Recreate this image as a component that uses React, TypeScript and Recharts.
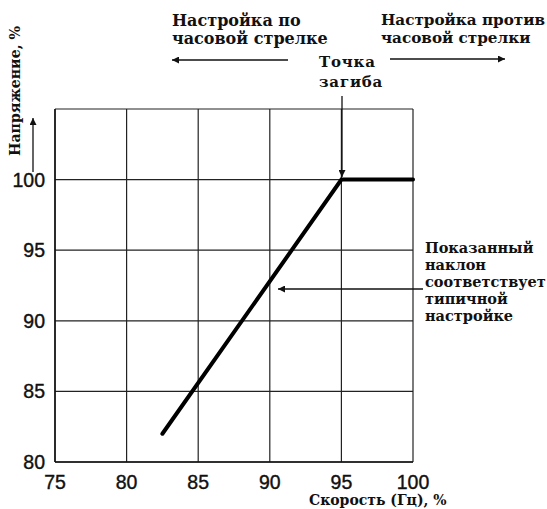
import { LineChart, Line, XAxis, YAxis, CartesianGrid } from 'recharts';

// Characteristic: voltage vs speed (frequency), %
const speed = [82.5, 95, 100];
const voltage = [82, 100, 100];
const xTicks = [75, 80, 85, 90, 95, 100];
const yTicks = [80, 85, 90, 95, 100, 105];

const leftCaption = ['Настройка по', 'часовой стрелке'];
const rightCaption = ['Настройка против', 'часовой стрелки'];
const kneeCaption = ['Точка', 'загиба'];
const slopeCaption = ['Показанный', 'наклон', 'соответствует', 'типичной', 'настройке'];

const data = speed.map((x, i) => ({ x, y: voltage[i] }));

const serif = { fontFamily: '"DejaVu Serif", serif', fontWeight: 700, fill: '#111' };
const tickStyle = { fontSize: 19.5, fill: '#111', fontFamily: '"Liberation Sans", Arial, sans-serif', stroke: '#111', strokeWidth: 0.4 };

function Overlay() {
  return (
    <svg width={547} height={509} style={{ position: 'absolute', left: 0, top: 0, pointerEvents: 'none' }}>
      <defs>
        <marker id="head" viewBox="0 0 10 10" refX="10" refY="5" markerWidth="9" markerHeight="7" markerUnits="userSpaceOnUse" orient="auto">
          <path d="M0,0 L10,5 L0,10 z" fill="#111" />
        </marker>
      </defs>

      {/* top captions */}
      <text fontSize={16} {...serif}>
        <tspan x={172} y={26}>{leftCaption[0]}</tspan>
        <tspan x={172} y={44}>{leftCaption[1]}</tspan>
      </text>
      <line x1={288} y1={60} x2={172} y2={60} stroke="#111" strokeWidth={1.3} markerEnd="url(#head)" />

      <text fontSize={15.2} {...serif}>
        <tspan x={381} y={25}>{rightCaption[0]}</tspan>
        <tspan x={381} y={43}>{rightCaption[1]}</tspan>
      </text>
      <line x1={390} y1={59} x2={505} y2={59} stroke="#111" strokeWidth={1.3} markerEnd="url(#head)" />

      {/* knee point */}
      <text fontSize={15} letterSpacing={0.8} {...serif}>
        <tspan x={319} y={67}>{kneeCaption[0]}</tspan>
        <tspan x={319} y={87}>{kneeCaption[1]}</tspan>
      </text>
      <line x1={342} y1={96} x2={342} y2={177} stroke="#111" strokeWidth={1.3} markerEnd="url(#head)" />

      {/* slope note */}
      <text fontSize={14.5} {...serif}>
        {slopeCaption.map((s, i) => (
          <tspan key={s} x={425} y={253 + i * 17}>{s}</tspan>
        ))}
      </text>
      <line x1={423} y1={289} x2={278} y2={289} stroke="#111" strokeWidth={1.3} markerEnd="url(#head)" />

      {/* axis titles */}
      <text transform="translate(20,156) rotate(-90)" fontSize={14.2} {...serif}>Напряжение, %</text>
      <line x1={33} y1={172} x2={33} y2={118} stroke="#111" strokeWidth={1.3} markerEnd="url(#head)" />
      <text x={309} y={505} fontSize={14} {...serif}>Скорость (Гц), %</text>
    </svg>
  );
}

export default function App() {
  return (
    <div style={{ position: 'absolute', left: 0, top: 0, width: 547, height: 509, background: '#fff' }}>
      <LineChart width={547} height={509} data={data} margin={{ top: 109, right: 134, left: 0, bottom: 0 }}>
        <CartesianGrid stroke="#222" strokeWidth={1.2} />
        <XAxis
          dataKey="x"
          type="number"
          domain={[75, 100]}
          ticks={xTicks}
          height={47}
          tickLine={false}
          tickSize={0}
          tickMargin={13}
          axisLine={{ stroke: '#111', strokeWidth: 1.5 }}
          tick={tickStyle}
        />
        <YAxis
          type="number"
          domain={[80, 105]}
          ticks={yTicks}
          width={55}
          tickLine={false}
          tickSize={0}
          tickMargin={10}
          axisLine={{ stroke: '#111', strokeWidth: 1.5 }}
          tick={tickStyle}
          tickFormatter={(v: number) => (v === 105 ? '' : String(v))}
        />
        <Line
          dataKey="y"
          type="linear"
          stroke="#000"
          strokeWidth={4}
          strokeLinecap="round"
          dot={false}
          activeDot={false}
          isAnimationActive={false}
        />
      </LineChart>
      <Overlay />
    </div>
  );
}
